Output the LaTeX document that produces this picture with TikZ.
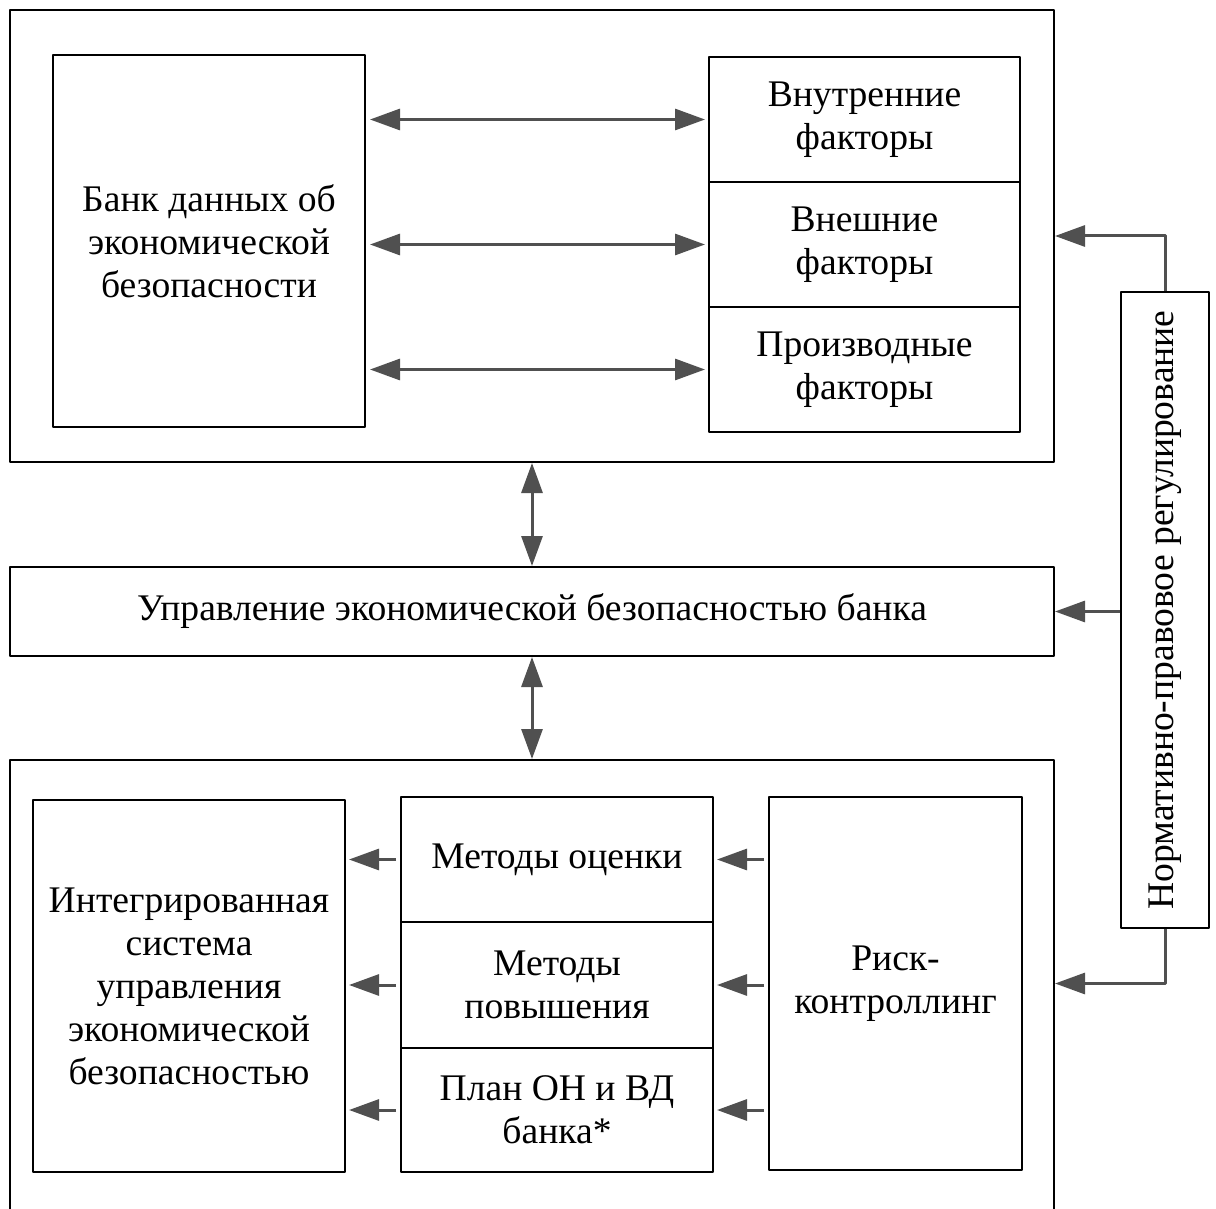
\documentclass[tikz,border=0pt]{standalone}
\usepackage{fontspec}
\setmainfont{Liberation Serif}
\usetikzlibrary{arrows.meta}
\definecolor{arrgray}{HTML}{505050}
\begin{document}
\begin{tikzpicture}[x=0.5pt,y=-0.5pt,line join=round,
	box/.style={draw,line width=1pt,rectangle,inner sep=0pt,align=center,
		font=\fontsize{18.8}{21.5}\selectfont},
	link/.style={draw=arrgray,line width=1.5pt,-{Triangle[length=15pt,width=10.5pt]}},
	dlink/.style={draw=arrgray,line width=1.5pt,{Triangle[length=15pt,width=10.5pt]}-{Triangle[length=15pt,width=10.5pt]}}]
	\useasboundingbox (0,0) rectangle (1216,1209);
	\clip (0,0) rectangle (1216,1209);
	% upper block
	\node[box,minimum width=1044*0.5pt,minimum height=452*0.5pt] (outA) at (532,236) {};
	\node[box,minimum width=312*0.5pt,minimum height=372*0.5pt] (bank) at (209,241)
		{Банк данных об\\экономической\\безопасности};
	\node[box,minimum width=311*0.5pt,minimum height=125*0.5pt] (f1) at (864.5,119.5) {Внутренние\\факторы};
	\node[box,minimum width=311*0.5pt,minimum height=125*0.5pt] (f2) at (864.5,244.5) {Внешние\\факторы};
	\node[box,minimum width=311*0.5pt,minimum height=125*0.5pt] (f3) at (864.5,369.5) {Производные\\факторы};
	% middle
	\node[box,minimum width=1044*0.5pt,minimum height=89*0.5pt] (mid) at (532,611.5)
		{Управление экономической безопасностью банка};
	% lower block
	\node[box,minimum width=1044*0.5pt,minimum height=480*0.5pt] (outB) at (532,1000) {};
	\node[box,minimum width=312*0.5pt,minimum height=372*0.5pt] (integ) at (189,986)
		{Интегрированная\\система\\управления\\экономической\\безопасностью};
	\node[box,minimum width=312*0.5pt,minimum height=125*0.5pt] (m1) at (557,859.5) {Методы оценки};
	\node[box,minimum width=312*0.5pt,minimum height=126*0.5pt] (m2) at (557,985) {Методы\\повышения};
	\node[box,minimum width=312*0.5pt,minimum height=124*0.5pt] (m3) at (557,1110) {План ОН и ВД\\банка*};
	\node[box,minimum width=253*0.5pt,minimum height=373*0.5pt] (risk) at (895.5,983.5) {Риск-\\контроллинг};
	% regulation
	\node[box,minimum width=88*0.5pt,minimum height=636*0.5pt] (reg) at (1165,610) {};
	\node[rotate=90,font=\fontsize{18.8}{21.5}\selectfont] (regtxt) at (reg.center) {Нормативно-правовое регулирование};
	% connectors
	\foreach \f in {f1,f2,f3}
	{
		\draw[dlink,shorten <=2pt,shorten >=1.5pt] (\f.west -| bank.east) -- (\f.west);
	}
	\draw[dlink] (outA.south) -- (mid.north);
	\draw[dlink] (mid.south) -- (outB.north);
	\foreach \m in {m1,m2,m3}
	{
		\draw[link,shorten <=2pt,shorten >=1.5pt] (\m.west) -- (\m.west -| integ.east);
		\draw[link,shorten <=2pt,shorten >=1.5pt] (risk.west |- \m) -- (\m.east);
	}
	\draw[link] (reg.north) |- (outA.east);
	\draw[link] (reg.west |- mid.east) -- (mid.east);
	\draw[link] (reg.south) |- (outB.east |- risk);
\end{tikzpicture}
\end{document}
